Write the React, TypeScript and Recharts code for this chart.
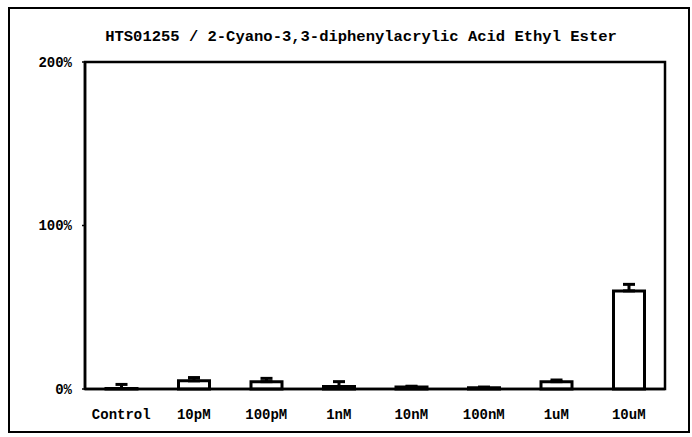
import React from 'react';
import { BarChart, Bar, XAxis, YAxis, ErrorBar, ReferenceArea } from 'recharts';

const categories = ['Control', '10pM', '100pM', '1nM', '10nM', '100nM', '1uM', '10uM'];
const means = [0.3, 5, 4.5, 1.5, 1.2, 0.8, 4.5, 60];
const errors = [2.5, 2, 2, 3, 0.5, 0.4, 1, 4];
const yTicks = [0, 100, 200];

const title = 'HTS01255 / 2-Cyano-3,3-diphenylacrylic Acid Ethyl Ester';
const font = '"Liberation Mono", "DejaVu Sans Mono", monospace';

const data = categories.map((name, i) => ({
  name,
  value: means[i],
  err: [0, errors[i]],
}));

export default function App() {
  return (
    <div style={{ position: 'absolute', left: 0, top: 0, width: 692, height: 437, background: '#fff' }}>
      <div
        style={{
          position: 'absolute',
          left: 8,
          top: 7,
          width: 678,
          height: 422,
          border: '2px solid #000',
        }}
      />
      <div
        style={{
          position: 'absolute',
          left: 0,
          top: 27,
          width: 722,
          textAlign: 'center',
          fontFamily: font,
          fontWeight: 'bold',
          fontSize: 15.5,
          color: '#000',
          lineHeight: '20px',
        }}
      >
        {title}
      </div>
      <div style={{ position: 'absolute', left: 0, top: 0 }}>
        <BarChart
          width={692}
          height={437}
          data={data}
          margin={{ top: 62, right: 27, bottom: 0, left: 0 }}
          barSize={31}
        >
          <XAxis
            dataKey="name"
            height={48}
            axisLine={{ stroke: '#000', strokeWidth: 2.5 }}
            tickLine={false}
            tickMargin={14}
            interval={0}
            tick={{ fill: '#000', fontFamily: font, fontWeight: 'bold', fontSize: 14 }}
          />
          <YAxis
            domain={[0, 200]}
            ticks={yTicks}
            width={85}
            tickFormatter={(v: number) => `${v}%`}
            axisLine={{ stroke: '#000', strokeWidth: 2.5 }}
            tickLine={{ stroke: '#000', strokeWidth: 1.5 }}
            tickSize={3}
            tickMargin={10}
            tick={{ fill: '#000', fontFamily: font, fontWeight: 'bold', fontSize: 14 }}
          />
          <ReferenceArea y1={0} y2={200} fill="none" stroke="#000" strokeWidth={2.5} />
          <Bar dataKey="value" fill="#fff" stroke="#000" strokeWidth={3} isAnimationActive={false}>
            <ErrorBar dataKey="err" width={6} stroke="#000" strokeWidth={3} direction="y" />
          </Bar>
        </BarChart>
      </div>
    </div>
  );
}
